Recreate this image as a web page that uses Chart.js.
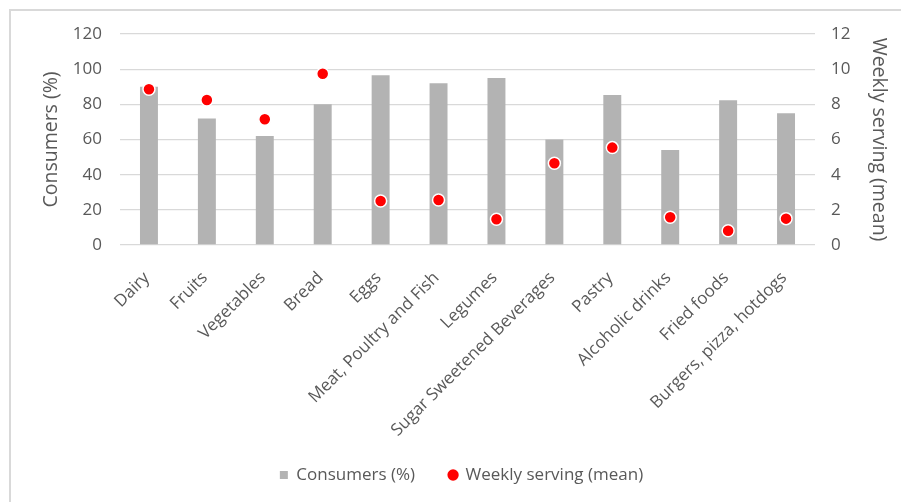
<!DOCTYPE html>
<html>
<head>
<meta charset="utf-8">
<script src="https://cdn.jsdelivr.net/npm/chart.js@4/dist/chart.umd.min.js"></script>
<style>
  html, body { margin: 0; padding: 0; background: #fff; }
  #wrap { position: relative; width: 901px; height: 502px; }
</style>
</head>
<body>
<div id="wrap"><canvas id="c" width="901" height="502"></canvas></div>
<script>
const categories = ["Dairy", "Fruits", "Vegetables", "Bread", "Eggs", "Meat, Poultry and Fish", "Legumes", "Sugar Sweetened Beverages", "Pastry", "Alcoholic drinks", "Fried foods", "Burgers, pizza, hotdogs"];
const consumersPct = [90, 72, 62, 80, 96.5, 92, 95, 60, 85.3, 54, 82.3, 75];
const weeklyServing = [8.86, 8.25, 7.15, 9.74, 2.5, 2.56, 1.46, 4.65, 5.54, 1.58, 0.81, 1.5];
const leftTicks = [0, 20, 40, 60, 80, 100, 120];
const rightTicks = [0, 2, 4, 6, 8, 10, 12];

const FONT = "'Open Sans', sans-serif";
const TXT = "#595959";
const PLOT_BOTTOM = 245;
const LEGEND_CENTER = 463;

const frame = {
  id: 'frame',
  beforeDraw(chart) {
    const ctx = chart.ctx;
    ctx.save();
    ctx.strokeStyle = '#d9d9d9';
    ctx.lineWidth = 2;
    ctx.beginPath();
    ctx.moveTo(10, 502);
    ctx.lineTo(10, 10);
    ctx.lineTo(901, 10);
    ctx.stroke();
    ctx.restore();
  },
  afterLayout(chart) {
    const L = chart.legend;
    if (!L) return;
    const h = L.bottom - L.top;
    const newTop = LEGEND_CENTER - h / 2;
    const dy = newTop - L.top;
    L.top += dy; L.bottom += dy;
    L.left += 22;
  }
};

new Chart(document.getElementById('c'), {
  data: {
    labels: categories,
    datasets: [
      {
        type: 'bar',
        label: 'Consumers (%)',
        data: consumersPct,
        backgroundColor: '#b3b3b3',
        yAxisID: 'y',
        barPercentage: 0.31,
        categoryPercentage: 1.0,
        pointStyle: 'rect',
        order: 2
      },
      {
        type: 'line',
        label: 'Weekly serving (mean)',
        data: weeklyServing,
        yAxisID: 'y2',
        showLine: false,
        pointStyle: 'circle',
        pointRadius: 6,
        pointBackgroundColor: '#ff0000',
        pointBorderColor: '#ffffff',
        pointBorderWidth: 1.5,
        backgroundColor: '#ff0000',
        borderColor: '#ff0000',
        order: 1
      }
    ]
  },
  options: {
    responsive: false,
    animation: false,
    layout: { padding: { top: 34, left: 0, right: 0, bottom: 0 } },
    plugins: {
      tooltip: { enabled: false },
      legend: {
        position: 'bottom',
        labels: {
          usePointStyle: true,
          boxWidth: 8,
          boxHeight: 8,
          padding: 34,
          color: TXT,
          font: { family: FONT, size: 17 },
          generateLabels(chart) {
            return chart.data.datasets.map((ds, i) => ({
              text: ds.label,
              fillStyle: i === 0 ? '#b3b3b3' : '#ff0000',
              strokeStyle: i === 0 ? '#b3b3b3' : '#ff0000',
              lineWidth: 0,
              pointStyle: i === 0 ? 'rect' : 'circle',
              fontColor: TXT,
              datasetIndex: i,
              hidden: false
            }));
          }
        }
      }
    },
    scales: {
      x: {
        grid: { display: false },
        border: { display: false },
        ticks: {
          color: TXT,
          font: { family: FONT, size: 17 },
          minRotation: 45,
          maxRotation: 45,
          autoSkip: false,
          padding: 15,
          labelOffset: -2
        },
        afterFit(s) {
          const lh = s.chart.legend ? s.chart.legend.height : 0;
          s.height = 502 - PLOT_BOTTOM - lh;
        }
      },
      y: {
        position: 'left',
        min: 0, max: 120,
        afterBuildTicks(s) { s.ticks = leftTicks.map(v => ({ value: v })); },
        grid: { color: '#d9d9d9', lineWidth: 1.3, drawTicks: false },
        border: { display: false },
        ticks: { color: TXT, font: { family: FONT, size: 17 }, padding: 18 },
        title: { display: true, text: 'Consumers (%)', color: TXT, font: { family: FONT, size: 19.5 }, padding: { top: 40, bottom: 0 } },
        afterFit(s) { s.width = 120; }
      },
      y2: {
        position: 'right',
        min: 0, max: 12,
        afterBuildTicks(s) { s.ticks = rightTicks.map(v => ({ value: v })); },
        grid: { display: false, drawTicks: false },
        border: { display: false },
        ticks: { color: TXT, font: { family: FONT, size: 17 }, padding: 16 },
        title: { display: true, text: 'Weekly serving (mean)', color: TXT, font: { family: FONT, size: 19.5 }, padding: { top: 11, bottom: 0 } },
        afterFit(s) { s.width = 86; }
      }
    }
  },
  plugins: [frame]
});
</script>
</body>
</html>
